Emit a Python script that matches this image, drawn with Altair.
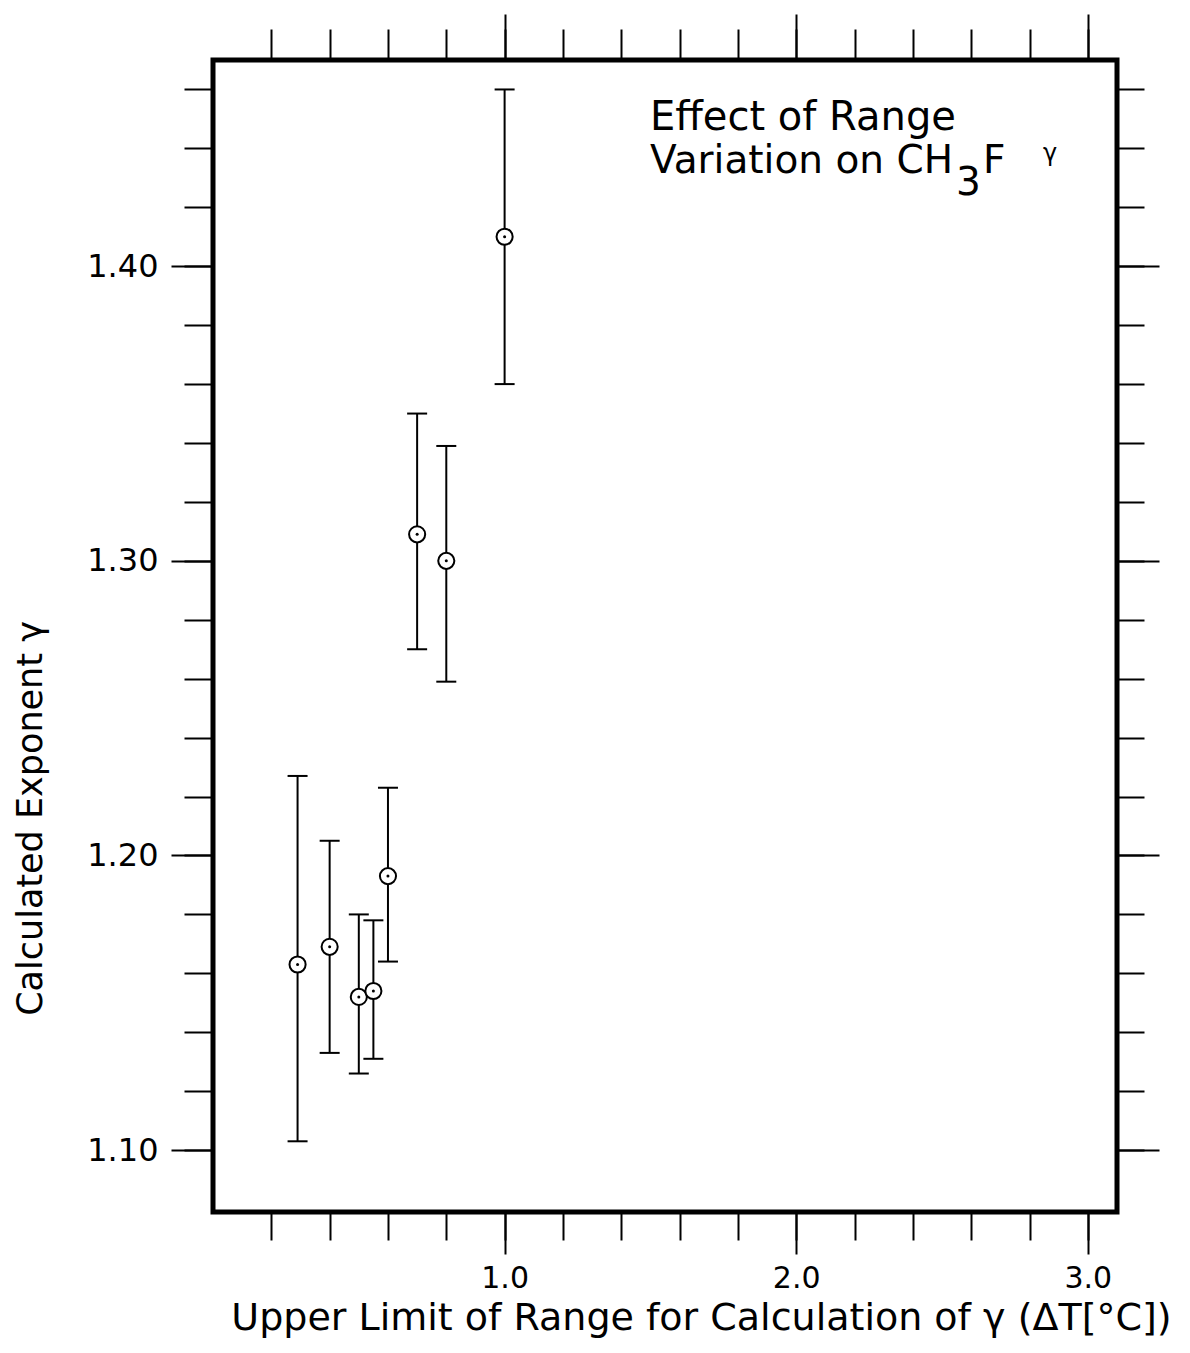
import altair as alt
import pandas as pd

# ---- data ----
x_upper = [0.29, 0.40, 0.50, 0.55, 0.60, 0.70, 0.80, 1.00]
gamma = [1.163, 1.169, 1.152, 1.154, 1.193, 1.309, 1.300, 1.410]
gamma_lo = [1.103, 1.133, 1.126, 1.131, 1.164, 1.270, 1.259, 1.360]
gamma_hi = [1.227, 1.205, 1.180, 1.178, 1.223, 1.350, 1.339, 1.460]

x_major = [1.0, 2.0, 3.0]
x_minor = [0.2, 0.4, 0.6, 0.8, 1.0, 1.2, 1.4, 1.6, 1.8, 2.0, 2.2, 2.4, 2.6, 2.8, 3.0]
y_major = [1.10, 1.20, 1.30, 1.40]
y_minor = [1.10, 1.12, 1.14, 1.16, 1.18, 1.20, 1.22, 1.24, 1.26, 1.28, 1.30,
           1.32, 1.34, 1.36, 1.38, 1.40, 1.42, 1.44, 1.46]

x_title = "Upper Limit of Range for Calculation of γ (ΔT[°C])"
y_title = "Calculated Exponent γ"
note_line1 = "Effect of Range"
note_line2 = "Variation on CH"
note_sub = "3"
note_f = "F"
note_gamma = "γ"

df = pd.DataFrame({"x": x_upper, "g": gamma, "lo": gamma_lo, "hi": gamma_hi})

FONT = "DejaVu Sans"
xs = alt.Scale(domain=[0, 3.1], nice=False, zero=False)
ys = alt.Scale(domain=[1.079, 1.47], nice=False, zero=False)

common = dict(domain=False, grid=False, tickColor="black", tickWidth=2,
              labelColor="black", labelFont=FONT, titleFont=FONT,
              titleColor="black", titleFontWeight="normal")

x_bottom_major = alt.Axis(orient="bottom", values=x_major, format=".1f",
                          tickSize=42, labelFontSize=30, labelPadding=9,
                          labelFlush=False, title=x_title, titleFontSize=38,
                          titleX=488, titleY=117, titleAlign="center",
                          titleBaseline="alphabetic", titleAngle=0, **common)
x_bottom_minor = alt.Axis(orient="bottom", values=x_minor, tickSize=28,
                          labels=False, title=None, **common)
x_top_major = alt.Axis(orient="top", values=x_major, tickSize=46,
                       labels=False, title=None, **common)
x_top_minor = alt.Axis(orient="top", values=x_minor, tickSize=31,
                       labels=False, title=None, **common)

y_left_major = alt.Axis(orient="left", values=y_major, format=".2f",
                        tickSize=42, labelFontSize=32, labelPadding=13,
                        title=y_title, titleFontSize=35, titleAngle=270,
                        titleX=-172, titleY=758, titleAlign="center",
                        titleBaseline="alphabetic", **common)
y_left_minor = alt.Axis(orient="left", values=y_minor, tickSize=29,
                        labels=False, title=None, **common)
y_right_major = alt.Axis(orient="right", values=y_major, tickSize=42,
                         labels=False, title=None, **common)
y_right_minor = alt.Axis(orient="right", values=y_minor, tickSize=27,
                         labels=False, title=None, **common)

base = alt.Chart(df)

bars = base.mark_rule(color="black", strokeWidth=2).encode(
    x=alt.X("x:Q", scale=xs, axis=x_bottom_major),
    y=alt.Y("lo:Q", scale=ys, axis=y_left_major),
    y2="hi:Q",
)
caps_lo = base.mark_tick(orient="horizontal", size=20, thickness=2, color="black", opacity=1).encode(
    x=alt.X("x:Q", scale=xs, axis=x_bottom_minor),
    y=alt.Y("lo:Q", scale=ys, axis=y_left_minor),
)
caps_hi = base.mark_tick(orient="horizontal", size=20, thickness=2, color="black", opacity=1).encode(
    x=alt.X("x:Q", scale=xs, axis=x_top_major),
    y=alt.Y("hi:Q", scale=ys, axis=y_right_major),
)
rings = base.mark_circle(fill="white", stroke="black", strokeWidth=2, size=260, opacity=1).encode(
    x=alt.X("x:Q", scale=xs, axis=x_top_minor),
    y=alt.Y("g:Q", scale=ys, axis=y_right_minor),
)
dots = base.mark_circle(color="black", size=9, opacity=1).encode(
    x=alt.X("x:Q", scale=xs, axis=None),
    y=alt.Y("g:Q", scale=ys, axis=None),
)

one = pd.DataFrame({"k": [0]})


def label(txt, px, py, size):
    return alt.Chart(one).mark_text(
        text=txt, align="left", baseline="alphabetic", font=FONT,
        fontSize=size, color="black"
    ).encode(x=alt.value(px), y=alt.value(py))


notes = [
    label(note_line1, 437, 70, 40),
    label(note_line2, 437, 113, 39),
    label(note_sub, 743, 135, 39),
    label(note_f, 770, 113, 39),
    label(note_gamma, 830, 101, 24),
]

chart = alt.layer(bars, caps_lo, caps_hi, rings, dots, *notes).resolve_axis(
    x="independent", y="independent"
).properties(
    width=904, height=1152,
    autosize=alt.AutoSizeParams(type="none"),
    padding={"left": 205, "top": 52, "right": 61, "bottom": 126},
    background="white",
).configure_view(stroke="black", strokeWidth=5)

chart.save("out.html", embed_options={"renderer": "svg", "actions": False})
